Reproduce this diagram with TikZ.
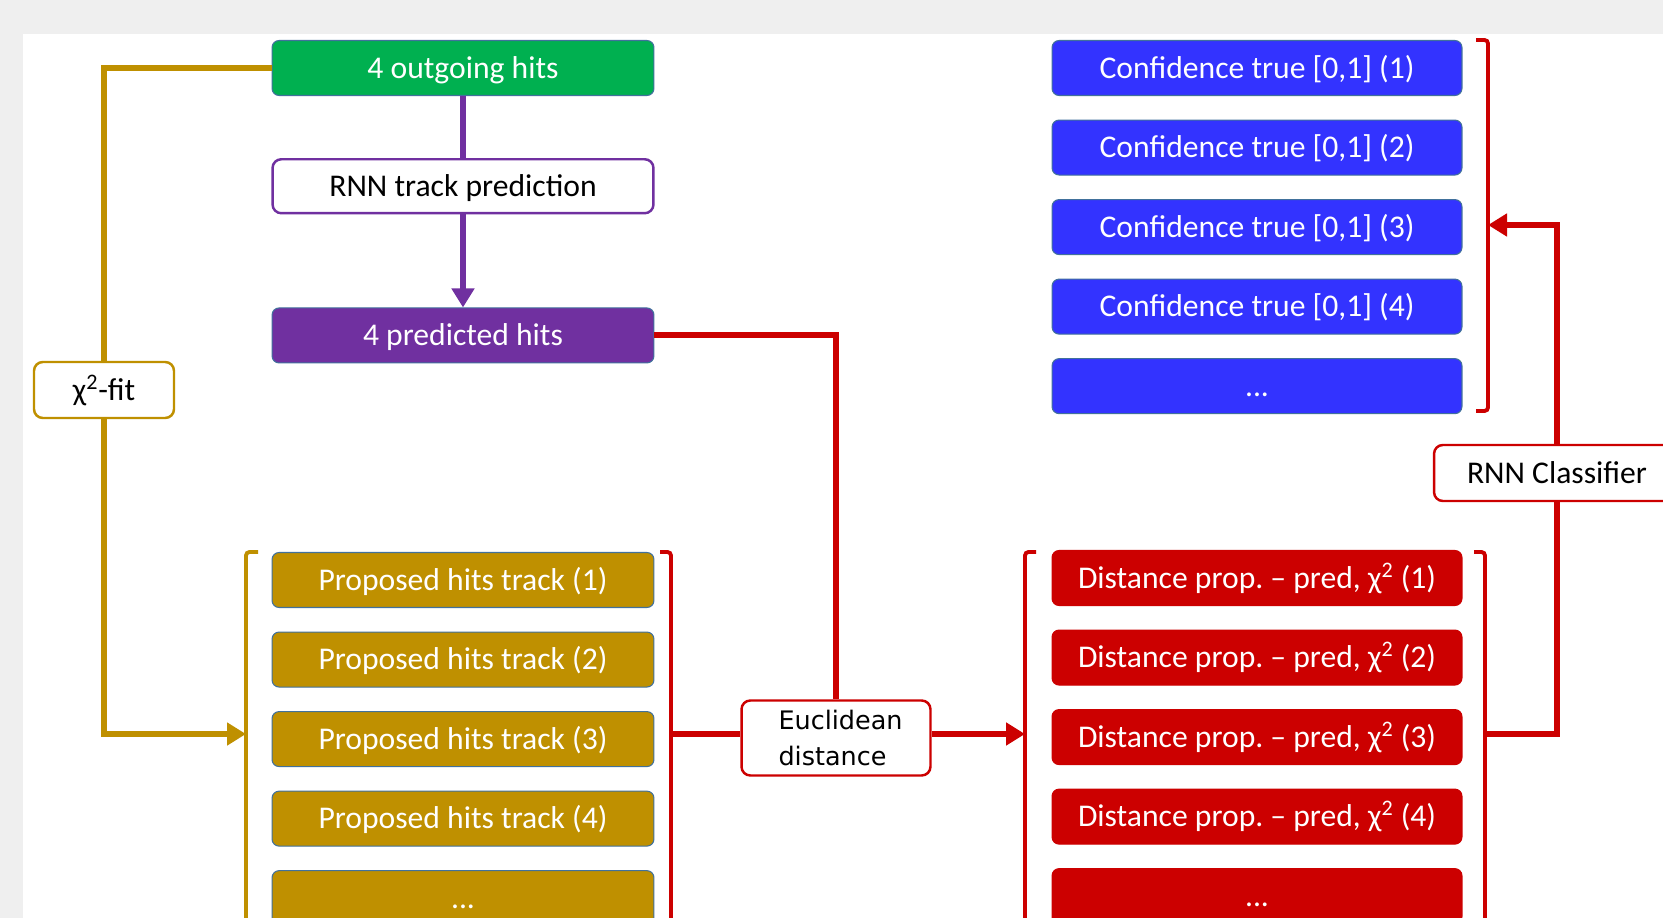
\documentclass[tikz,border=0pt]{standalone}
\usepackage{fontspec}
\setmainfont{Carlito}
\newfontfamily\euclfont{DejaVu Sans}
\usetikzlibrary{arrows.meta, positioning}
\frenchspacing
\definecolor{bggray}{RGB}{239,239,239}
\definecolor{mygreen}{RGB}{0,176,80}
\definecolor{mypurple}{RGB}{112,48,160}
\definecolor{mygold}{RGB}{191,144,0}
\definecolor{myred}{RGB}{204,0,0}
\definecolor{myblue}{RGB}{51,51,255}
\definecolor{edgeblue}{RGB}{65,113,156}
\tikzset{
  box/.style={rectangle, draw=edgeblue, text=white, inner sep=0pt,
    minimum width=7.64cm, minimum height=1.1cm, text height=15.5pt, text depth=4pt,
    font=\fontsize{18}{22}\selectfont, rounded corners=4pt, line width=0.6pt},
  greenbox/.style={box, fill=mygreen},
  purplebox/.style={box, fill=mypurple},
  goldbox/.style={box, fill=mygold},
  bluebox/.style={box, fill=myblue, minimum width=8.2cm},
  redbox/.style={box, fill=myred, draw=myred, minimum width=8.2cm},
  opbox/.style={rectangle, fill=white, text=black, inner sep=0pt,
    font=\fontsize{18}{22}\selectfont, rounded corners=5pt, line width=1.4pt},
  goldline/.style={draw=mygold, line width=3.4pt},
  purpleline/.style={draw=mypurple, line width=3.4pt},
  redline/.style={draw=myred, line width=3.4pt},
  tip/.style={-{Triangle[length=0.38cm, width=0.44cm]}},
  goldbrk/.style={draw=mygold, line width=2.2pt, rounded corners=2pt},
  redbrk/.style={draw=myred, line width=2.2pt, rounded corners=2pt}
}

\begin{document}
\begin{tikzpicture}[x=0.02cm, y=-0.02cm, node distance=0.47cm]
  \useasboundingbox (0,0) rectangle (1663,918);
  \clip (0,0) rectangle (1663,918);
  \fill[bggray] (0,0) rectangle (1663,918);
  \fill[white] (23,34) rectangle (1663,918);

  % left column
  \node[greenbox] (outhits) at (463,68) {4 outgoing hits};
  \node[opbox, draw=mypurple, minimum width=7.62cm, minimum height=1.08cm,
    text height=15.5pt, text depth=4pt, below=1.24cm of outhits] (rnnpred) {RNN track prediction};
  \node[purplebox, below=1.86cm of rnnpred] (predhits) {4 predicted hits};
  \node[opbox, draw=mygold, minimum width=2.8cm, minimum height=1.12cm]
    (chifit) at (104,390) {χ\textsuperscript{2}-fit};

  \node[goldbox] (prop1) at (463,580) {Proposed hits track (1)};
  \node[goldbox, below=of prop1] (prop2) {Proposed hits track (2)};
  \node[goldbox, below=of prop2] (prop3) {Proposed hits track (3)};
  \node[goldbox, below=of prop3] (prop4) {Proposed hits track (4)};
  \node[goldbox, below=of prop4] (prop5) {...};

  % middle
  \node[opbox, draw=myred, minimum width=3.78cm, minimum height=1.5cm,
    text width=2.3cm, align=left, font=\euclfont\fontsize{14.5}{21}\selectfont]
    (eucl) at (836,738) {Euclidean\\distance};

  % right column
  \node[bluebox] (conf1) at (1257,68) {Confidence true [0,1] (1)};
  \node[bluebox, below=of conf1] (conf2) {Confidence true [0,1] (2)};
  \node[bluebox, below=of conf2] (conf3) {Confidence true [0,1] (3)};
  \node[bluebox, below=of conf3] (conf4) {Confidence true [0,1] (4)};
  \node[bluebox, below=of conf4] (conf5) {...};

  \node[redbox] (dist1) at (1257,578) {Distance prop. – pred, χ\textsuperscript{2} (1)};
  \node[redbox, below=of dist1] (dist2) {Distance prop. – pred, χ\textsuperscript{2} (2)};
  \node[redbox, below=of dist2] (dist3) {Distance prop. – pred, χ\textsuperscript{2} (3)};
  \node[redbox, below=of dist3] (dist4) {Distance prop. – pred, χ\textsuperscript{2} (4)};
  \node[redbox, below=of dist4] (dist5) {...};

  \node[opbox, draw=myred, minimum width=4.92cm, minimum height=1.12cm]
    (rnnclass) at (1557,473) {RNN Classifier};

  % brackets
  \coordinate (propin) at (246,734);
  \coordinate (propout) at (671,734);
  \coordinate (distin) at (1025,734);
  \coordinate (distout) at (1485,734);
  \coordinate (confin) at (1488,225);
  \draw[goldbrk] (258,552) -- (246,552) -- (246,940);
  \draw[redbrk] (660,552) -- (671,552) -- (671,940);
  \draw[redbrk] (1036,552) -- (1025,552) -- (1025,940);
  \draw[redbrk] (1474,552) -- (1485,552) -- (1485,940);
  \draw[redbrk] (1476,40) -- (1488,40) -- (1488,411) -- (1476,411);

  % connectors
  \draw[purpleline] (outhits) -- (rnnpred);
  \draw[purpleline, tip] (rnnpred) -- (predhits);
  \draw[goldline] (outhits.west) -| (chifit.north);
  \draw[goldline, tip] (chifit.south) |- (propin);
  \draw[redline] (predhits.east) -| (eucl.north);
  \draw[redline] (propout) -- (propout -| eucl.west);
  \draw[redline, tip] (distin -| eucl.east) -- (distin);
  \draw[redline] (distout) -| (rnnclass.south);
  \draw[redline, tip] (rnnclass.north) |- (confin);
\end{tikzpicture}
\end{document}
